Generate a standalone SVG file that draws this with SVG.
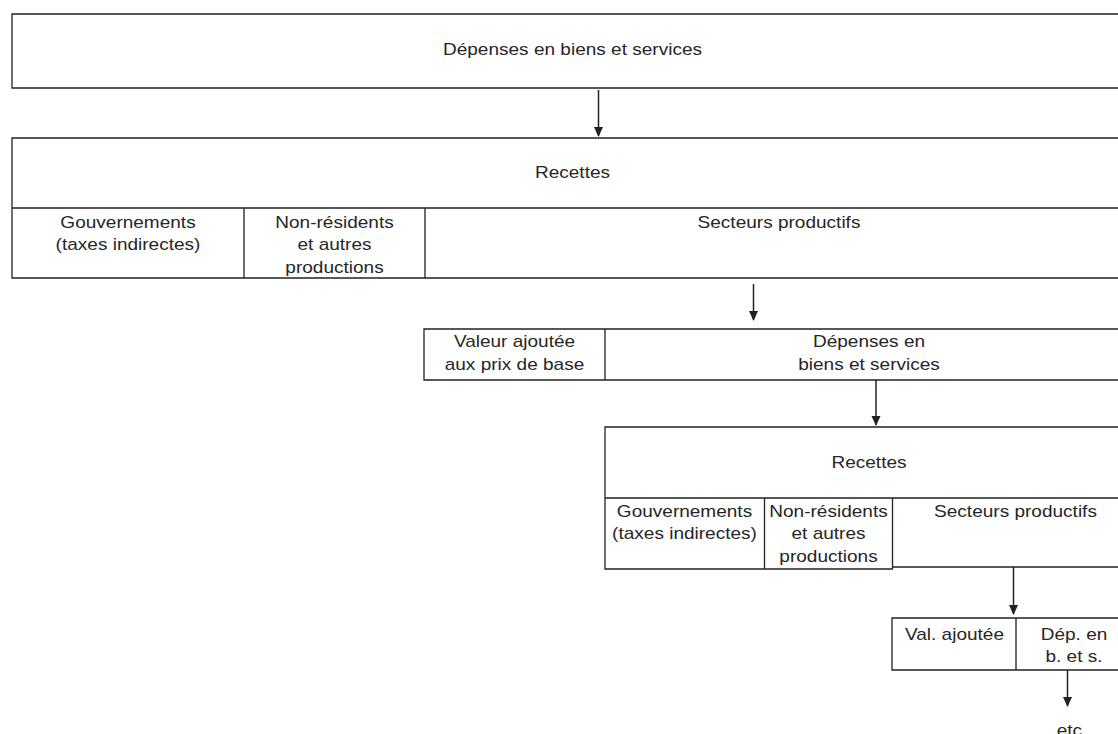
<svg xmlns="http://www.w3.org/2000/svg" width="1118" height="734" viewBox="0 0 1118 734">
<style>
.b{fill:none;stroke:#222;stroke-width:1.3}
.t{font-family:"Liberation Sans",Arial,sans-serif;font-size:17px;fill:#262626;text-anchor:middle}
.c{stroke:#222;stroke-width:1.5;fill:none}
</style>
<defs>
<marker id="ah" markerWidth="10" markerHeight="10" refX="9" refY="5" orient="auto" markerUnits="userSpaceOnUse" viewBox="0 0 10 10">
<path d="M0,0.5 L10,5 L0,9.5 Z" fill="#222"/>
</marker>
</defs>
<rect width="1118" height="734" fill="#fff"/>
<g id="n1">
<path class="b" d="M1134,14 H12 V88 H1134"/>
<text class="t" transform="translate(572.5,55) scale(1.12,1)">Dépenses en biens et services</text>
</g>
<g id="n2">
<path class="b" d="M1134,138 H12 V278 H1134 M12,208 H1134 M244,208 V278 M425,208 V278"/>
<text class="t" transform="translate(572.5,178) scale(1.12,1)">Recettes</text>
<text class="t" transform="translate(128,228) scale(1.12,1)"><tspan x="0" y="0">Gouvernements</tspan><tspan x="0" y="22.5">(taxes indirectes)</tspan></text>
<text class="t" transform="translate(334.5,228) scale(1.12,1)"><tspan x="0" y="0">Non-résidents</tspan><tspan x="0" y="22.5">et autres</tspan><tspan x="0" y="45">productions</tspan></text>
<text class="t" transform="translate(779,228) scale(1.12,1)">Secteurs productifs</text>
</g>
<g id="n3">
<path class="b" d="M1134,329 H424 V380 H1134 M605,329 V380"/>
<text class="t" transform="translate(514.5,347) scale(1.12,1)"><tspan x="0" y="0">Valeur ajoutée</tspan><tspan x="0" y="23.5">aux prix de base</tspan></text>
<text class="t" transform="translate(869,347) scale(1.12,1)"><tspan x="0" y="0">Dépenses en</tspan><tspan x="0" y="23.5">biens et services</tspan></text>
</g>
<g id="n4">
<path class="b" d="M1134,427 H605 V569 H893 M892,567 H1134 M605,498 H1134 M764.5,498 V569 M892.5,498 V569"/>
<text class="t" transform="translate(869,468) scale(1.12,1)">Recettes</text>
<text class="t" transform="translate(684.5,517) scale(1.12,1)"><tspan x="0" y="0">Gouvernements</tspan><tspan x="0" y="22.5">(taxes indirectes)</tspan></text>
<text class="t" transform="translate(828.5,517) scale(1.12,1)"><tspan x="0" y="0">Non-résidents</tspan><tspan x="0" y="22.5">et autres</tspan><tspan x="0" y="45">productions</tspan></text>
<text class="t" transform="translate(1015.5,517) scale(1.12,1)">Secteurs productifs</text>
</g>
<g id="n5">
<path class="b" d="M1134,618 H892 V670 H1134 M1016,618 V670"/>
<text class="t" transform="translate(954.5,640) scale(1.12,1)">Val. ajoutée</text>
<text class="t" transform="translate(1074,640) scale(1.12,1)"><tspan x="0" y="0">Dép. en</tspan><tspan x="0" y="22">b. et s.</tspan></text>
</g>
<g id="n6">
<text class="t" transform="translate(1072,736) scale(1.12,1)">etc.</text>
</g>
<g id="connectors">
<line class="c" x1="598.5" y1="90" x2="598.5" y2="136" marker-end="url(#ah)"/>
<line class="c" x1="753.5" y1="284" x2="753.5" y2="320" marker-end="url(#ah)"/>
<line class="c" x1="876" y1="380" x2="876" y2="425" marker-end="url(#ah)"/>
<line class="c" x1="1013.5" y1="567" x2="1013.5" y2="614" marker-end="url(#ah)"/>
<line class="c" x1="1067.5" y1="670" x2="1067.5" y2="706" marker-end="url(#ah)"/>
</g>
</svg>
